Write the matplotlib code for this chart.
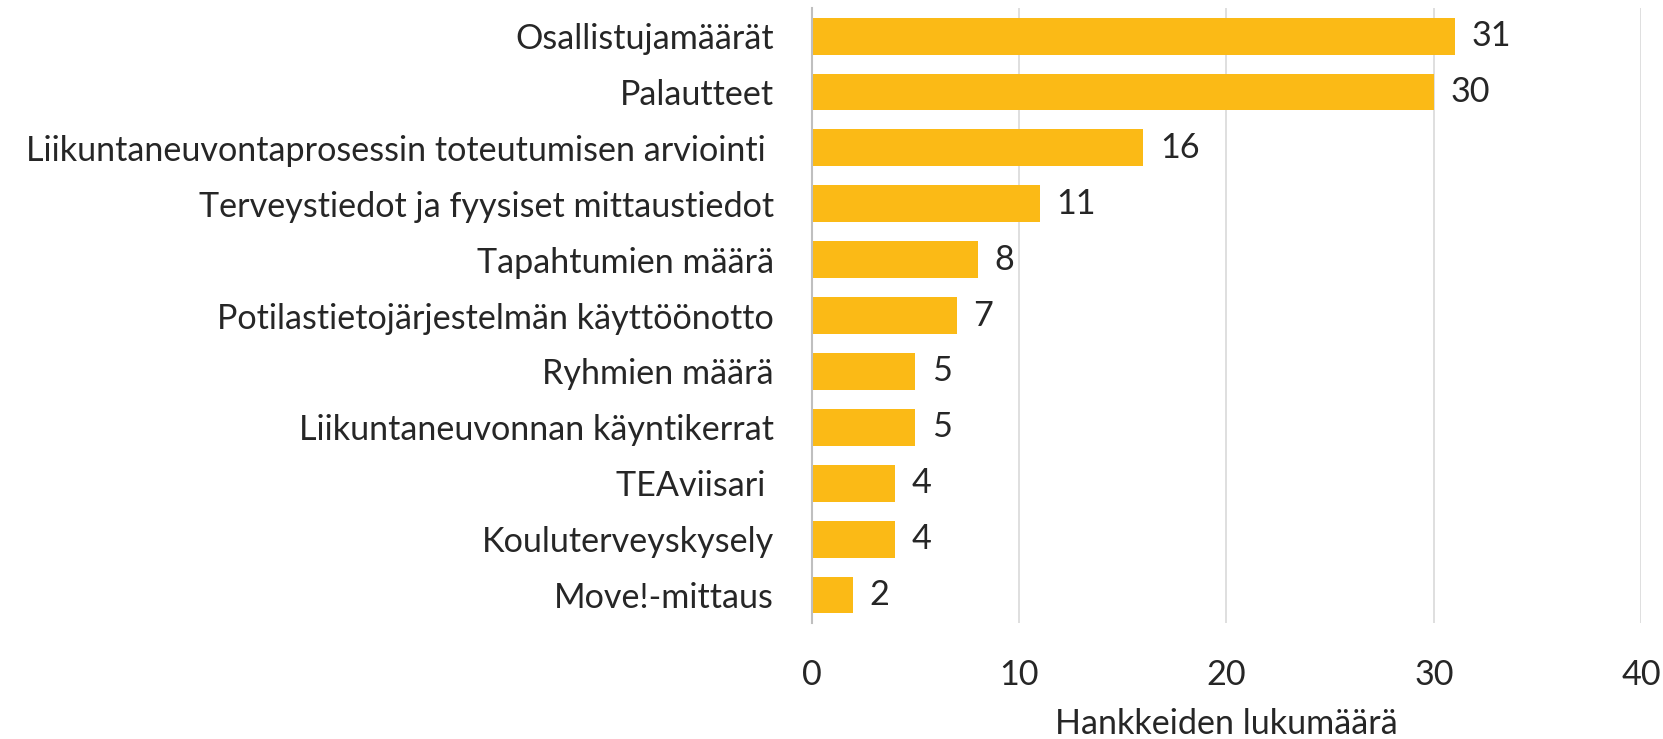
import matplotlib
matplotlib.use("Agg")
import matplotlib.pyplot as plt

# data (top to bottom as in the chart)
categories = [
    "Osallistujamäärät",
    "Palautteet",
    "Liikuntaneuvontaprosessin toteutumisen arviointi ",
    "Terveystiedot ja fyysiset mittaustiedot",
    "Tapahtumien määrä",
    "Potilastietojärjestelmän käyttöönotto",
    "Ryhmien määrä",
    "Liikuntaneuvonnan käyntikerrat",
    "TEAviisari ",
    "Kouluterveyskysely",
    "Move!-mittaus",
]
counts = [31, 30, 16, 11, 8, 7, 5, 5, 4, 4, 2]
xticks = [0, 10, 20, 30, 40]
xlabel = "Hankkeiden lukumäärä"

plt.rcParams['font.family'] = ['Lato', 'DejaVu Sans']
text_col = "#262626"

fig = plt.figure(figsize=(16.63, 7.39), dpi=100)
ax = fig.add_axes([0.488, 0.157, 0.499, 0.832])

y = list(range(len(categories)))
ax.barh(y, counts, height=0.66, color="#FBBA16", zorder=3)
ax.set_ylim(len(categories) - 0.5, -0.5)
ax.set_xlim(0, 40)
ax.set_yticks(y)
ax.set_yticklabels(categories, fontsize=24.6, color=text_col)
ax.set_xticks(xticks)
ax.set_xticklabels([str(t) for t in xticks], fontsize=24.6, color=text_col)
ax.tick_params(axis='y', length=0, pad=27)
ax.tick_params(axis='x', length=0, pad=26)
ax.set_xlabel(xlabel, fontsize=24.6, color=text_col, labelpad=12)

ax.grid(axis='x', color="#D9D9D9", linewidth=1.2, zorder=0)
for s in ["top", "right", "bottom"]:
    ax.spines[s].set_visible(False)
ax.spines["left"].set_color("#BFBFBF")
ax.spines["left"].set_linewidth(1.5)
ax.spines["left"].set_zorder(4)

for yi, v in zip(y, counts):
    ax.annotate(str(v), (v, yi), xytext=(12, 0), textcoords="offset points",
                va="center", ha="left", fontsize=24.6, color=text_col)

fig.savefig("out.png", dpi=100)
